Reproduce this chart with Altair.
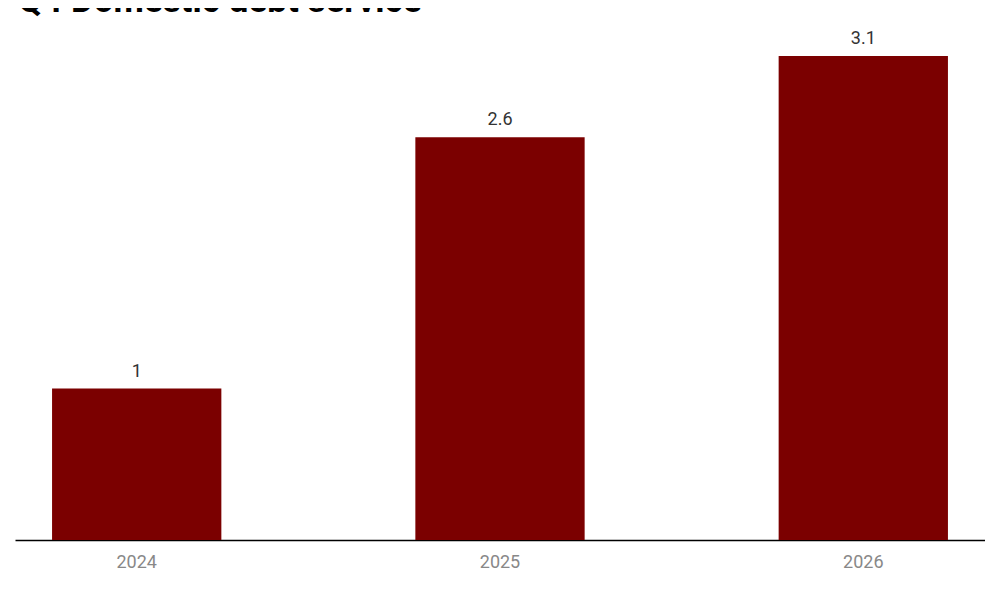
import altair as alt
import pandas as pd

years = ["2024", "2025", "2026"]
values = [0.97, 2.58, 3.1]
labels = ["1", "2.6", "3.1"]

df = pd.DataFrame({"year": years, "value": values, "label": labels})

base = alt.Chart(df).encode(
    x=alt.X(
        "year:N",
        title=None,
        sort=years,
        scale=alt.Scale(paddingInner=0.534, paddingOuter=0.102),
        axis=alt.Axis(
            labelAngle=0,
            ticks=False,
            domainColor="#000000",
            domainWidth=1.5,
            labelFont="Roboto",
            labelFontSize=18,
            labelColor="#888888",
            labelBaseline="alphabetic",
            labelPadding=27,
        ),
    ),
    y=alt.Y(
        "value:Q",
        title=None,
        scale=alt.Scale(domain=[0, 3.1], nice=False),
        axis=None,
    ),
)

bars = base.mark_bar(color="#7b0000")
text = base.mark_text(
    baseline="alphabetic", dy=-12, font="Roboto", fontSize=18, color="#333333"
).encode(text="label:N")

chart = (
    (bars + text)
    .properties(
        width=970,
        height=484,
        background="#ffffff",
        title=alt.TitleParams(
            "Q4 Domestic debt service",
            anchor="start",
            font="Roboto",
            fontSize=35,
            fontWeight="bold",
            color="#000000",
            dx=3,
            dy=-7,
        ),
        autosize=alt.AutoSizeParams(type="none"),
        padding={"left": 7, "top": 48, "right": 0, "bottom": 44},
    )
    .configure_view(strokeWidth=0, stroke=None)
)

chart.save("out.html", embed_options={"renderer": "svg", "actions": False})
